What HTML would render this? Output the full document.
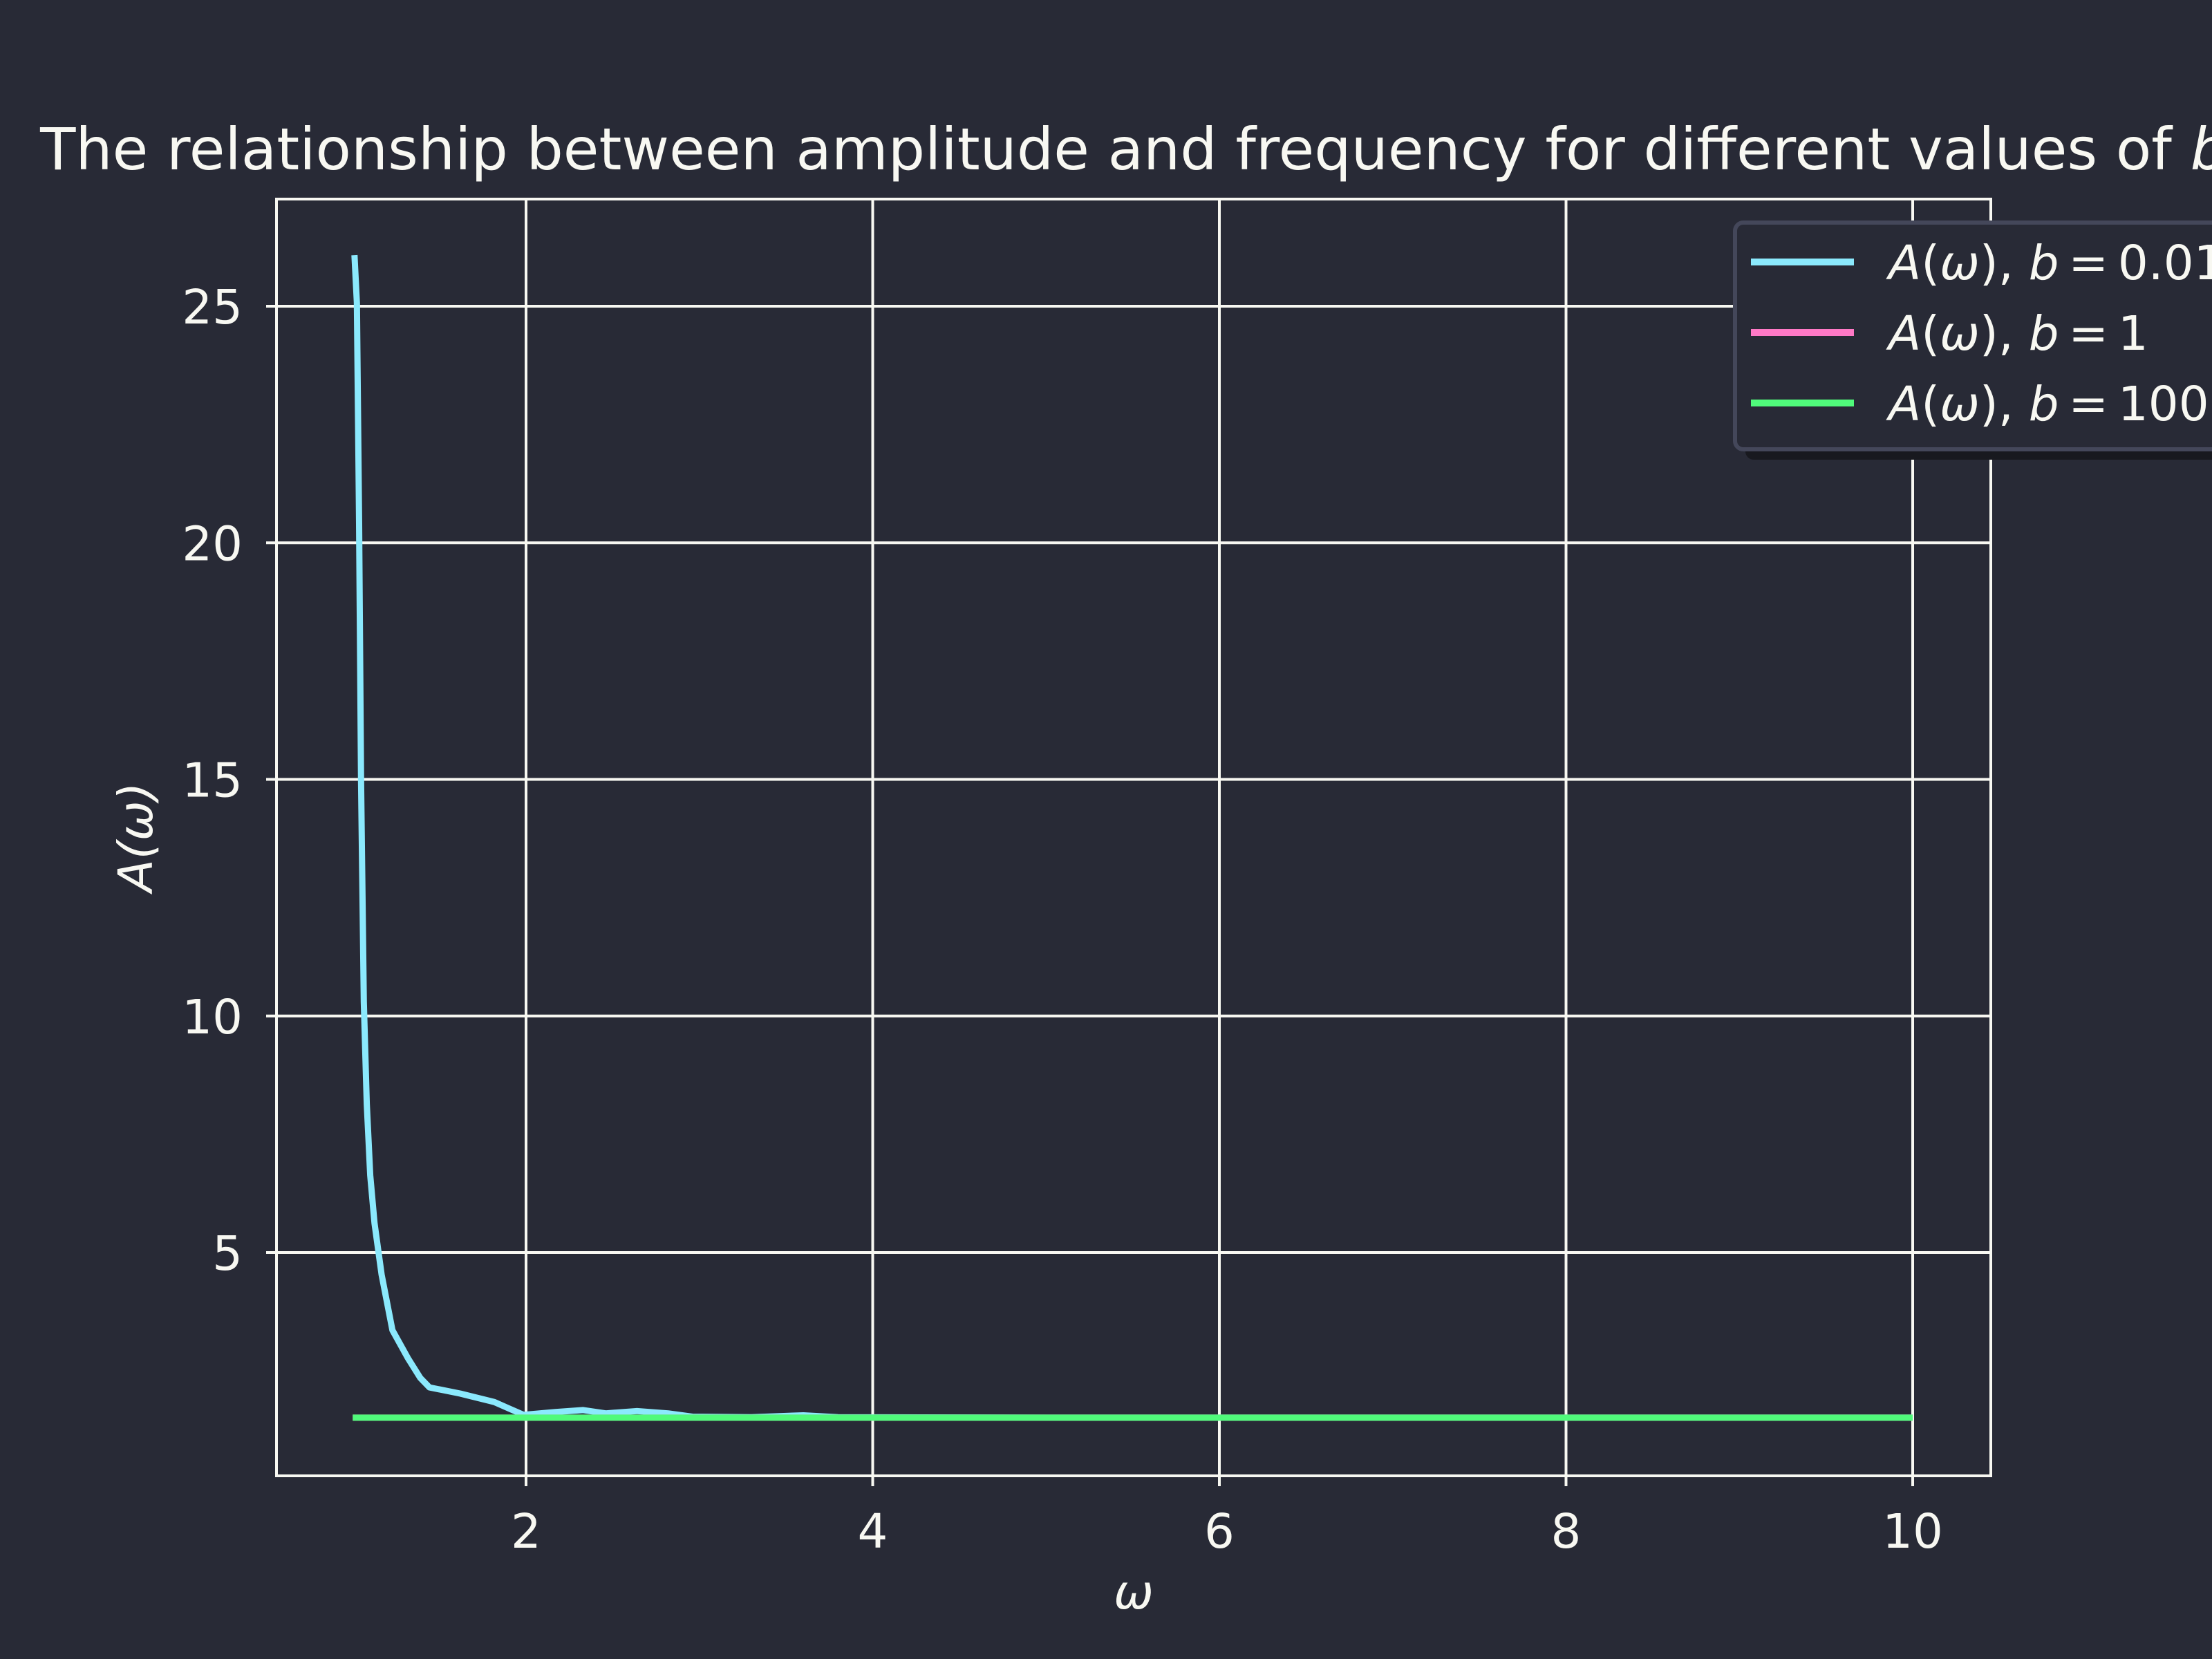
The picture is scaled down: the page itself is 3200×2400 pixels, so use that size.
<!DOCTYPE html>
<html><head><meta charset="utf-8">
<style>
html,body{margin:0;padding:0;background:#282a36;}
svg{display:block;font-family:"DejaVu Sans","Liberation Sans",sans-serif;}
</style></head>
<body>
<svg id="chart" width="3200" height="2400" viewBox="0 0 3200 2400" xmlns="http://www.w3.org/2000/svg">
<rect x="0" y="0" width="3200" height="2400" fill="#282a36"/>
<text x="1640" y="245" font-size="84" fill="#f8f8f2" text-anchor="middle">The relationship between amplitude and frequency for different values of <tspan font-style="italic">b</tspan></text>
<g id="grid"></g>
<g id="ticks"></g>
<g id="series"></g>
<rect x="400" y="288" width="2480" height="1847" fill="none" stroke="#f8f8f2" stroke-width="4"/>
<text x="1640" y="2327" font-size="69" font-style="italic" fill="#f8f8f2" text-anchor="middle">ω</text>
<text transform="translate(220,1211) rotate(-90)" font-size="69" font-style="italic" fill="#f8f8f2" text-anchor="middle">A(ω)</text>
<g>
<rect x="2525" y="337" width="800" height="328" rx="12" fill="#18191f"/>
<rect x="2510" y="322" width="800" height="328" rx="12" fill="#282a36" stroke="#44475a" stroke-width="6"/>
<line x1="2533" y1="379" x2="2682" y2="379" stroke="#8be9fd" stroke-width="10"/>
<text x="2732" y="404" font-size="69" fill="#f8f8f2"><tspan font-style="italic">A</tspan>(<tspan font-style="italic">ω</tspan>), <tspan font-style="italic">b</tspan>&#8201;=&#8201;0.01</text>
<line x1="2533" y1="481" x2="2682" y2="481" stroke="#ff79c6" stroke-width="10"/>
<text x="2732" y="506" font-size="69" fill="#f8f8f2"><tspan font-style="italic">A</tspan>(<tspan font-style="italic">ω</tspan>), <tspan font-style="italic">b</tspan>&#8201;=&#8201;1</text>
<line x1="2533" y1="583" x2="2682" y2="583" stroke="#50fa7b" stroke-width="10"/>
<text x="2732" y="608" font-size="69" fill="#f8f8f2"><tspan font-style="italic">A</tspan>(<tspan font-style="italic">ω</tspan>), <tspan font-style="italic">b</tspan>&#8201;=&#8201;100</text>
</g>
</svg>
<script>
const xTicks = [2, 4, 6, 8, 10];
const yTicks = [5, 10, 15, 20, 25];
const omegaLow = [1.01, 1.024, 1.037, 1.048, 1.064, 1.081, 1.101, 1.126, 1.167, 1.229, 1.318, 1.39, 1.443, 1.62, 1.817, 1.985, 2.17, 2.33, 2.46, 2.64, 2.82, 2.96, 3.3, 3.6, 3.8, 5, 10];
const ampLow = [26.08, 25.07, 20.4, 15.0, 10.3, 8.14, 6.63, 5.62, 4.53, 3.36, 2.77, 2.35, 2.15, 2.02, 1.84, 1.57, 1.63, 1.67, 1.6, 1.65, 1.6, 1.53, 1.52, 1.56, 1.52, 1.51, 1.51];
const omegaMid = [1.0, 10];
const ampMid = [1.51, 1.51];
const omegaHigh = [1.0, 10];
const ampHigh = [1.51, 1.51];

const NS = "http://www.w3.org/2000/svg";
function xs(v){ return 761 + (v - 2) * 250.75; }
function ys(v){ return 1812 - (v - 5) * 68.45; }
function mk(tag, attrs, parent){
  const e = document.createElementNS(NS, tag);
  for (const k in attrs) e.setAttribute(k, attrs[k]);
  parent.appendChild(e);
  return e;
}
const grid = document.getElementById('grid');
const ticks = document.getElementById('ticks');
xTicks.forEach(t => {
  const l = mk('line', {x1: xs(t), x2: xs(t), y1: 288, y2: 2150, stroke: '#f8f8f2', 'stroke-width': 4}, grid);
  
  
  const tx = mk('text', {x: xs(t), y: 2239, 'font-size': 69, fill: '#f8f8f2', 'text-anchor': 'middle'}, ticks);
  tx.textContent = String(t);
  
  
});
yTicks.forEach(t => {
  const l = mk('line', {x1: 385, x2: 2880, y1: ys(t), y2: ys(t), stroke: '#f8f8f2', 'stroke-width': 4}, grid);
  
  
  const tx = mk('text', {x: 351, y: ys(t) + 25, 'font-size': 69, fill: '#f8f8f2', 'text-anchor': 'end'}, ticks);
  tx.textContent = String(t);
  
  
});
const series = document.getElementById('series');
function drawLine(xsArr, ysArr, color, name){
  const d = xsArr.map((v, i) => (i ? 'L' : 'M') + xs(v).toFixed(1) + ' ' + ys(ysArr[i]).toFixed(1)).join(' ');
  const p = mk('path', {d: d, fill: 'none', stroke: color, 'stroke-width': 9, 'stroke-linejoin': 'round'}, series);
  
  
}
drawLine(omegaLow, ampLow, '#8be9fd', 'line-b-0.01');
drawLine(omegaMid, ampMid, '#ff79c6', 'line-b-1');
drawLine(omegaHigh, ampHigh, '#50fa7b', 'line-b-100');
</script>
</body></html>
